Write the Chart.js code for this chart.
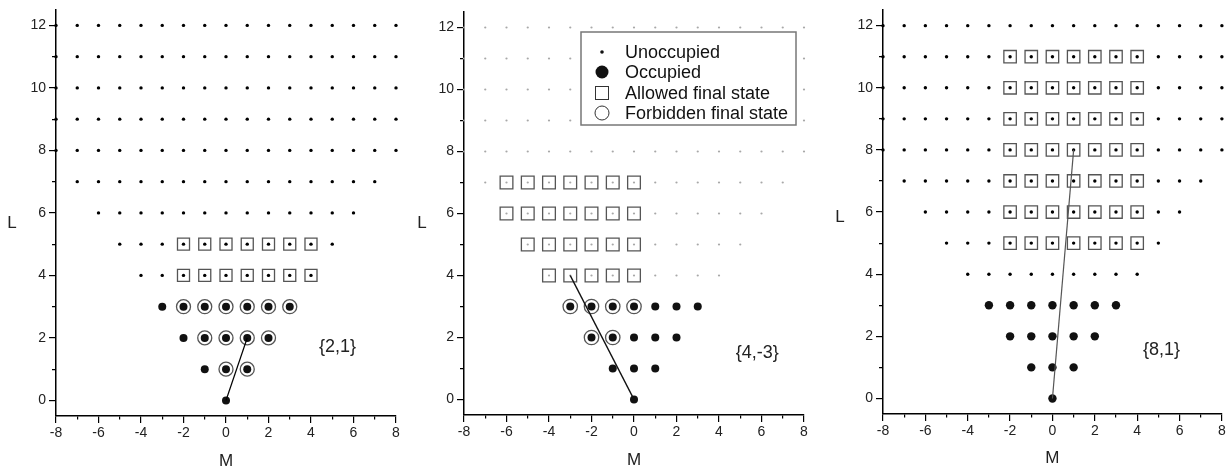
<!DOCTYPE html>
<html>
<head>
<meta charset="utf-8">
<script src="https://cdn.jsdelivr.net/npm/chart.js@4.4.0/dist/chart.umd.min.js"></script>
<style>
  html, body { margin: 0; padding: 0; background: #fff; }
  #wrap { position: relative; width: 1232px; height: 473px; overflow: hidden; }
  .panel { position: absolute; top: 0; height: 473px; }
</style>
</head>
<body>
<div id="wrap">
  <div class="panel" style="left:0;width:415px"><canvas id="c1" width="415" height="473"></canvas></div>
  <div class="panel" style="left:415px;width:415px"><canvas id="c2" width="415" height="473"></canvas></div>
  <div class="panel" style="left:830px;width:402px"><canvas id="c3" width="402" height="473"></canvas></div>
</div>
<script>
// axis ticks (labels only on even values)
const xTicks = [-8, -7, -6, -5, -4, -3, -2, -1, 0, 1, 2, 3, 4, 5, 6, 7, 8];
const yTicks = [0, 1, 2, 3, 4, 5, 6, 7, 8, 9, 10, 11, 12];

// rows of states: [L, first M, last M]
// panel 1 : {2,1}
const p1Unoccupied = [[12, -8, 8], [11, -8, 8], [10, -8, 8], [9, -8, 8], [8, -8, 8], [7, -7, 7], [6, -6, 6], [5, -5, 5], [4, -4, 4]];
const p1Occupied = [[3, -3, 3], [2, -2, 2], [1, -1, 1], [0, 0, 0]];
const p1Allowed = [[5, -2, 4], [4, -2, 4]];
const p1Forbidden = [[3, -2, 3], [2, -1, 2], [1, 0, 1]];
const p1Vector = [[0, 0], [1, 2]];

// panel 2 : {4,-3}
const p2Unoccupied = [[12, -8, 8], [11, -8, 8], [10, -8, 8], [9, -8, 8], [8, -8, 8], [7, -7, 7], [6, -6, 6], [5, -5, 5], [4, -4, 4]];
const p2Occupied = [[3, -3, 3], [2, -2, 2], [1, -1, 1], [0, 0, 0]];
const p2Allowed = [[7, -6, 0], [6, -6, 0], [5, -5, 0], [4, -4, 0]];
const p2Forbidden = [[3, -3, 0], [2, -2, -1]];
const p2Vector = [[0, 0], [-3, 4]];

// panel 3 : {8,1}
const p3Unoccupied = [[12, -8, 8], [11, -8, 8], [10, -8, 8], [9, -8, 8], [8, -8, 8], [7, -7, 7], [6, -6, 6], [5, -5, 5], [4, -4, 4]];
const p3Occupied = [[3, -3, 3], [2, -2, 2], [1, -1, 1], [0, 0, 0]];
const p3Allowed = [[11, -2, 4], [10, -2, 4], [9, -2, 4], [8, -2, 4], [7, -2, 4], [6, -2, 4], [5, -2, 4]];
const p3Forbidden = [];
const p3Vector = [[0, 0], [1, 8]];

const legendLabels = ['Unoccupied', 'Occupied', 'Allowed final state', 'Forbidden final state'];
const FONT = '"Liberation Sans", Arial, sans-serif';

function rowsToPoints(rows) {
  const pts = [];
  rows.forEach(([L, a, b]) => {
    for (let m = a; m <= b; m++) pts.push({ x: m, y: L });
  });
  return pts;
}

// draws axis titles, the {a,b} tag and (panel 2) the legend box
const decor = {
  id: 'decor',
  afterDraw(chart, args, opts) {
    const { ctx, chartArea: a, scales: { x, y } } = chart;
    ctx.save();
    ctx.fillStyle = '#222';
    ctx.textAlign = 'center';
    ctx.textBaseline = 'middle';
    ctx.font = '17px ' + FONT;
    ctx.fillText('M', (a.left + a.right) / 2, a.bottom + opts.mDy);
    ctx.fillText('L', a.left + opts.lDx, (a.top + a.bottom) / 2 + opts.lDy);
    ctx.font = '18px ' + FONT;
    ctx.fillText(opts.tag, x.getPixelForValue(opts.tagAt[0]), y.getPixelForValue(opts.tagAt[1]));

    if (opts.legend) {
      const bx = a.left + 117, by = a.top + 20, bw = 215, bh = 93;
      ctx.fillStyle = '#fff';
      ctx.fillRect(bx, by, bw, bh);
      ctx.strokeStyle = '#777';
      ctx.lineWidth = 1.5;
      ctx.strokeRect(bx, by, bw, bh);
      const rows = [20, 40, 61, 81];
      const mx = bx + 21;
      ctx.fillStyle = '#111';
      ctx.strokeStyle = '#333';
      ctx.lineWidth = 1;
      // unoccupied
      ctx.beginPath(); ctx.arc(mx, by + rows[0], 1.8, 0, Math.PI * 2); ctx.fill();
      // occupied
      ctx.beginPath(); ctx.arc(mx, by + rows[1], 6.5, 0, Math.PI * 2); ctx.fill();
      // allowed
      ctx.strokeRect(mx - 6.5, by + rows[2] - 6.5, 13, 13);
      // forbidden
      ctx.beginPath(); ctx.arc(mx, by + rows[3], 7, 0, Math.PI * 2); ctx.stroke();
      ctx.font = '18px ' + FONT;
      ctx.textAlign = 'left';
      legendLabels.forEach((t, i) => ctx.fillText(t, bx + 44, by + rows[i] + 1));
    }
    ctx.restore();
  }
};

// even ticks long, odd ticks short; only the piece next to the axis is drawn
// (x ticks run from the axis outwards, y ticks run from the outer end to the axis)
const xTickDash = c => (c.tick && c.tick.value % 2 !== 0 ? [3, 50] : []);
const yTickDash = c => (c.tick && c.tick.value % 2 !== 0 ? [0, 3, 4, 50] : []);

function makePanel(id, p) {
  return new Chart(document.getElementById(id), {
    type: 'scatter',
    data: {
      datasets: [
        {
          data: p.vector.map(([m, l]) => ({ x: m, y: l })),
          showLine: true,
          borderColor: p.lineColor,
          borderWidth: p.lineWidth,
          pointRadius: 0,
          order: 0
        },
        {
          data: rowsToPoints(p.occupied),
          pointStyle: 'circle',
          pointRadius: p.occR,
          pointBackgroundColor: '#111',
          pointBorderWidth: 0,
          order: 1
        },
        {
          data: rowsToPoints(p.unoccupied),
          pointStyle: 'circle',
          pointRadius: p.dotR,
          pointBackgroundColor: p.dotColor,
          pointBorderWidth: 0,
          order: 2
        },
        {
          data: rowsToPoints(p.allowed),
          pointStyle: 'rect',
          pointRadius: p.sqR,
          pointBackgroundColor: 'rgba(0,0,0,0)',
          pointBorderColor: '#555',
          pointBorderWidth: 1.3,
          order: 3
        },
        {
          data: rowsToPoints(p.forbidden),
          pointStyle: 'circle',
          pointRadius: p.ringR,
          pointBackgroundColor: 'rgba(0,0,0,0)',
          pointBorderColor: '#555',
          pointBorderWidth: 1.3,
          order: 4
        }
      ]
    },
    options: {
      responsive: false,
      animation: false,
      events: [],
      clip: false,
      layout: { padding: { left: 0, right: p.padRight, top: p.padTop, bottom: 0 } },
      plugins: {
        legend: { display: false },
        tooltip: { enabled: false },
        decor: p.decor
      },
      scales: {
        x: {
          type: 'linear',
          min: -8,
          max: 8,
          afterBuildTicks: s => { s.ticks = xTicks.map(v => ({ value: v })); },
          afterFit: s => { s.height = p.xAxisH; s.paddingLeft = 0; s.paddingRight = 0; },
          ticks: {
            autoSkip: false,
            maxRotation: 0,
            padding: 2,
            color: '#222',
            font: { family: FONT, size: 14 },
            callback: v => (v % 2 === 0 ? String(v) : '')
          },
          grid: { drawOnChartArea: false, drawTicks: true, tickLength: 7, color: '#000', lineWidth: 1.2, tickBorderDash: xTickDash },
          border: { display: true, color: '#000', width: 1.5 }
        },
        y: {
          type: 'linear',
          min: -0.5,
          max: 12.5,
          afterBuildTicks: s => { s.ticks = yTicks.map(v => ({ value: v })); },
          afterFit: s => { s.width = p.yAxisW; s.paddingTop = 0; s.paddingBottom = 0; },
          ticks: {
            autoSkip: false,
            padding: 3,
            color: '#222',
            font: { family: FONT, size: 14 },
            callback: v => (v % 2 === 0 ? String(v) : '')
          },
          grid: { drawOnChartArea: false, drawTicks: true, tickLength: 7, color: '#000', lineWidth: 1.2, tickBorderDash: yTickDash },
          border: { display: true, color: '#000', width: 1.5 }
        }
      }
    },
    plugins: [decor]
  });
}

makePanel('c1', {
  unoccupied: p1Unoccupied, occupied: p1Occupied, allowed: p1Allowed, forbidden: p1Forbidden, vector: p1Vector,
  dotColor: '#000', dotR: 1.7, occR: 4, ringR: 7, sqR: 8.5, lineColor: '#000', lineWidth: 1.3,
  yAxisW: 56, padRight: 19, padTop: 7, xAxisH: 57,
  decor: { tag: '{2,1}', tagAt: [5.25, 1.7], mDy: 45, lDx: -44, lDy: 10, legend: false }
});

makePanel('c2', {
  unoccupied: p2Unoccupied, occupied: p2Occupied, allowed: p2Allowed, forbidden: p2Forbidden, vector: p2Vector,
  dotColor: '#a8a8a8', dotR: 1.1, occR: 4, ringR: 7.2, sqR: 9, lineColor: '#111', lineWidth: 1.5,
  yAxisW: 49, padRight: 26, padTop: 12, xAxisH: 58,
  decor: { tag: '{4,-3}', tagAt: [5.8, 1.5], mDy: 45, lDx: -42, lDy: 10, legend: true }
});

makePanel('c3', {
  unoccupied: p3Unoccupied, occupied: p3Occupied, allowed: p3Allowed, forbidden: p3Forbidden, vector: p3Vector,
  dotColor: '#000', dotR: 1.7, occR: 4.2, ringR: 7, sqR: 8.8, lineColor: '#555', lineWidth: 1.2,
  yAxisW: 53, padRight: 9, padTop: 0, xAxisH: 59,
  decor: { tag: '{8,1}', tagAt: [5.15, 1.57], mDy: 44, lDx: -43, lDy: 5, legend: false }
});
</script>
</body>
</html>
